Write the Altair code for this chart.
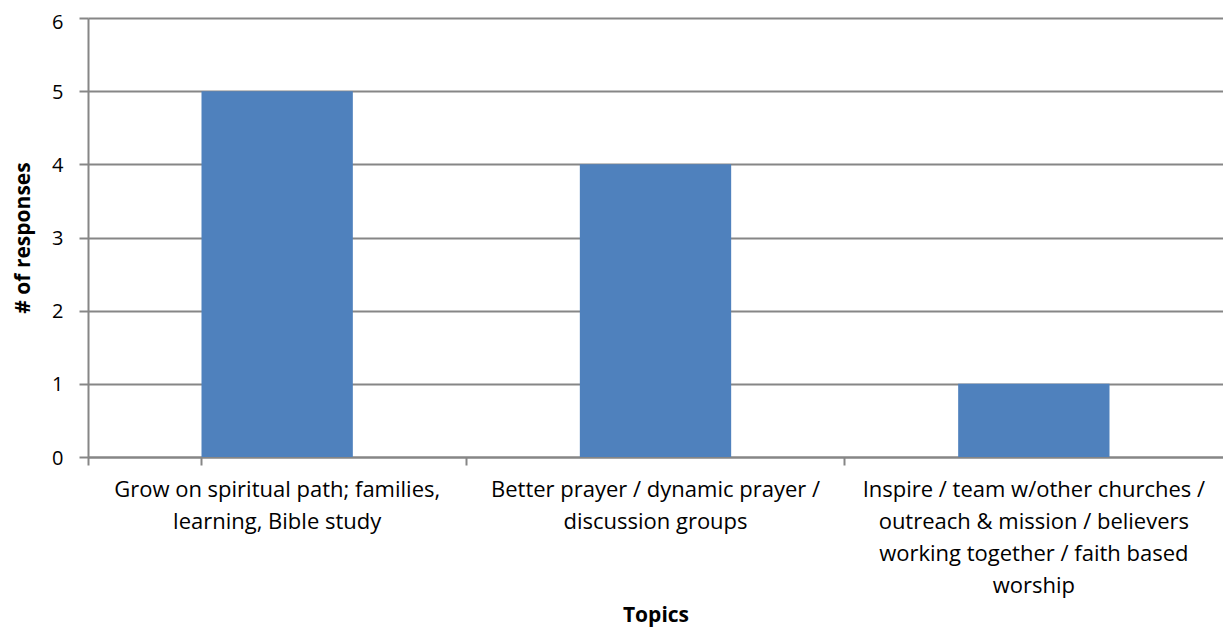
import altair as alt
import pandas as pd

topics = [
    "Grow on spiritual path; families,\nlearning, Bible study",
    "Better prayer / dynamic prayer /\ndiscussion groups",
    "Inspire / team w/other churches /\noutreach & mission / believers\nworking together / faith based\nworship",
]
responses = [5, 4, 1]
y_ticks = [0, 1, 2, 3, 4, 5, 6]

df = pd.DataFrame({"topic": topics, "responses": responses})

FONT = "Open Sans"
GRID = "#868686"

chart = alt.Chart(df).mark_bar(color="#4F81BD").encode(
    x=alt.X(
        "topic:N",
        sort=topics,
        title="Topics",
        scale=alt.Scale(paddingInner=0.6, paddingOuter=0.3),
        axis=alt.Axis(
            labelAngle=0,
            labelExpr="split(datum.label, '\\n')",
            labelLineHeight=32,
            labelFontSize=22,
            labelFont=FONT,
            labelColor="black",
            labelPadding=14,
            labelLimit=0,
            bandPosition=-0.75,
            tickExtra=True,
            tickSize=8,
            tickColor=GRID,
            tickWidth=2,
            domainColor=GRID,
            domainWidth=2,
            grid=False,
            titleFont=FONT,
            titleFontSize=21,
            titleFontWeight="bold",
            titleColor="black",
            titlePadding=8,
        ),
    ),
    y=alt.Y(
        "responses:Q",
        title="# of responses",
        scale=alt.Scale(domain=[0, 6], nice=False),
        axis=alt.Axis(
            values=y_ticks,
            format="d",
            labelFontSize=20,
            labelFont=FONT,
            labelColor="black",
            labelPadding=16,
            labelOffset={"condition": {"test": "datum.value == 6", "value": 4}, "value": 1},
            tickSize=9,
            tickColor=GRID,
            tickWidth=2,
            domainColor=GRID,
            domainWidth=2,
            gridColor=GRID,
            gridWidth=2,
            titleFont=FONT,
            titleFontSize=21,
            titleFontWeight="bold",
            titleColor="black",
            titlePadding=18,
        ),
    ),
).properties(
    width=1135,
    height=439,
    autosize=alt.AutoSizeParams(type="none"),
    padding={"left": 80, "top": 10, "right": 0, "bottom": 171},
).configure_view(stroke=None)

chart.save("out.html", embed_options={"renderer": "svg", "actions": False})
